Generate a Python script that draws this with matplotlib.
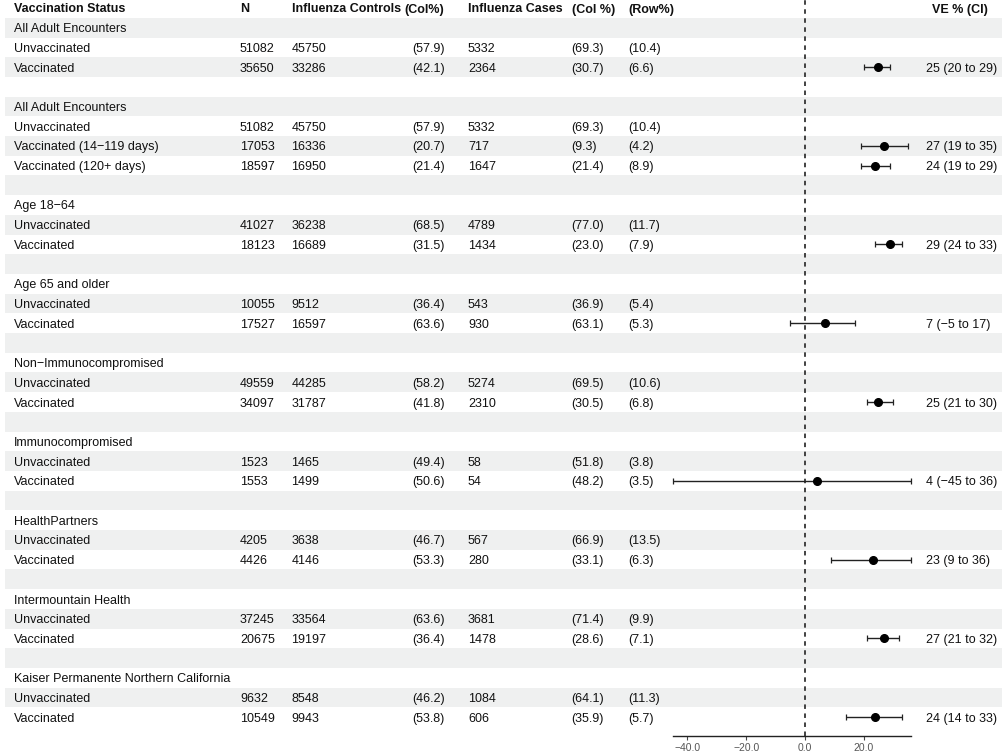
import matplotlib.pyplot as plt

plt.rcParams["font.family"] = ["Liberation Sans", "DejaVu Sans"]

# table rows (blank strings = spacer rows)
labels = [
    "All Adult Encounters", "Unvaccinated", "Vaccinated", "",
    "All Adult Encounters", "Unvaccinated", "Vaccinated (14\u2212119 days)", "Vaccinated (120+ days)", "",
    "Age 18\u221264", "Unvaccinated", "Vaccinated", "",
    "Age 65 and older", "Unvaccinated", "Vaccinated", "",
    "Non\u2212Immunocompromised", "Unvaccinated", "Vaccinated", "",
    "Immunocompromised", "Unvaccinated", "Vaccinated", "",
    "HealthPartners", "Unvaccinated", "Vaccinated", "",
    "Intermountain Health", "Unvaccinated", "Vaccinated", "",
    "Kaiser Permanente Northern California", "Unvaccinated", "Vaccinated",
]
n_total = ["", "51082", "35650", "", "", "51082", "17053", "18597", "", "", "41027", "18123", "",
           "", "10055", "17527", "", "", "49559", "34097", "", "", "1523", "1553", "",
           "", "4205", "4426", "", "", "37245", "20675", "", "", "9632", "10549"]
controls = ["", "45750", "33286", "", "", "45750", "16336", "16950", "", "", "36238", "16689", "",
            "", "9512", "16597", "", "", "44285", "31787", "", "", "1465", "1499", "",
            "", "3638", "4146", "", "", "33564", "19197", "", "", "8548", "9943"]
controls_col = ["", "(57.9)", "(42.1)", "", "", "(57.9)", "(20.7)", "(21.4)", "", "", "(68.5)", "(31.5)", "",
                "", "(36.4)", "(63.6)", "", "", "(58.2)", "(41.8)", "", "", "(49.4)", "(50.6)", "",
                "", "(46.7)", "(53.3)", "", "", "(63.6)", "(36.4)", "", "", "(46.2)", "(53.8)"]
cases = ["", "5332", "2364", "", "", "5332", "717", "1647", "", "", "4789", "1434", "",
         "", "543", "930", "", "", "5274", "2310", "", "", "58", "54", "",
         "", "567", "280", "", "", "3681", "1478", "", "", "1084", "606"]
cases_col = ["", "(69.3)", "(30.7)", "", "", "(69.3)", "(9.3)", "(21.4)", "", "", "(77.0)", "(23.0)", "",
             "", "(36.9)", "(63.1)", "", "", "(69.5)", "(30.5)", "", "", "(51.8)", "(48.2)", "",
             "", "(66.9)", "(33.1)", "", "", "(71.4)", "(28.6)", "", "", "(64.1)", "(35.9)"]
row_pct = ["", "(10.4)", "(6.6)", "", "", "(10.4)", "(4.2)", "(8.9)", "", "", "(11.7)", "(7.9)", "",
           "", "(5.4)", "(5.3)", "", "", "(10.6)", "(6.8)", "", "", "(3.8)", "(3.5)", "",
           "", "(13.5)", "(6.3)", "", "", "(9.9)", "(7.1)", "", "", "(11.3)", "(5.7)"]

# vaccine effectiveness, None where no estimate
ve_est = [None, None, 25, None, None, None, 27, 24, None, None, None, 29, None,
          None, None, 7, None, None, None, 25, None, None, None, 4, None,
          None, None, 23, None, None, None, 27, None, None, None, 24]
ve_lo = [None, None, 20, None, None, None, 19, 19, None, None, None, 24, None,
         None, None, -5, None, None, None, 21, None, None, None, -45, None,
         None, None, 9, None, None, None, 21, None, None, None, 14]
ve_hi = [None, None, 29, None, None, None, 35, 29, None, None, None, 33, None,
         None, None, 17, None, None, None, 30, None, None, None, 36, None,
         None, None, 36, None, None, None, 32, None, None, None, 33]

headers = ["Vaccination Status", "N", "Influenza Controls", "(Col%)",
           "Influenza Cases", "(Col %)", "(Row%)", "VE % (CI)"]

W, H = 1007, 755
fig = plt.figure(figsize=(W / 100, H / 100), dpi=100)

row_h = 19.7
y_first = 27.7
y_top = -y_first / row_h
y_bot = (H - y_first) / row_h
nrows = len(labels)

tab = fig.add_axes([0, 0, 1, 1])
tab.set_xlim(0, W)
tab.set_ylim(y_bot, y_top)
tab.axis("off")

# striped background
for i in range(0, nrows, 2):
    tab.barh(i, 997, left=5, height=1.0, color="#eff0f0", lw=0, zorder=0)

txt = dict(fontsize=9, va="center_baseline", color="#111111")
head_x = [14, 240, 291.5, 404, 468, 571.5, 628, 932]
for x, h in zip(head_x, headers):
    tab.text(x, -1, h, fontweight="bold", **txt)

col_x = [14, 240, 291.5, 412.5, 468, 571.5, 628]
columns = [labels, n_total, controls, controls_col, cases, cases_col, row_pct]
for x, col in zip(col_x, columns):
    for i, s in enumerate(col):
        if s:
            tab.text(x, i, s, **txt)

for i, (e, lo, hi) in enumerate(zip(ve_est, ve_lo, ve_hi)):
    if e is not None:
        tab.text(926, i, f"{e} ({lo} to {hi})".replace("-", "\u2212"), **txt)

# forest panel
ax_bottom = 736
fx0, fx1 = 672.7, 910.7
fp = fig.add_axes([fx0 / W, (H - ax_bottom) / H, (fx1 - fx0) / W, ax_bottom / H])
fp.patch.set_alpha(0)
fp.set_xlim(-45, 36)
fp.set_ylim((ax_bottom - y_first) / row_h, y_top)

rows = [i for i, e in enumerate(ve_est) if e is not None]
est = [ve_est[i] for i in rows]
err_lo = [ve_est[i] - ve_lo[i] for i in rows]
err_hi = [ve_hi[i] - ve_est[i] for i in rows]
fp.errorbar(est, rows, xerr=[err_lo, err_hi], fmt="o", color="black", ms=5.5,
            ecolor="#222222", elinewidth=1.0, capsize=2.3, capthick=0.9, clip_on=False, zorder=3)
fp.axvline(0, color="#333333", lw=1.3, linestyle=(0, (2.5, 2.5)), zorder=1)

for s in ["top", "left", "right"]:
    fp.spines[s].set_visible(False)
fp.spines["bottom"].set_color("#222222")
fp.spines["bottom"].set_linewidth(1.0)
fp.set_yticks([])
ticks = [-40, -20, 0, 20]
fp.set_xticks(ticks)
fp.set_xticklabels([f"{t:.1f}".replace("-", "\u2212") for t in ticks])
fp.tick_params(axis="x", length=3, width=0.8, color="#444444", labelcolor="#555555",
               labelsize=7.5, pad=2)

fig.savefig("out.png", dpi=100)
